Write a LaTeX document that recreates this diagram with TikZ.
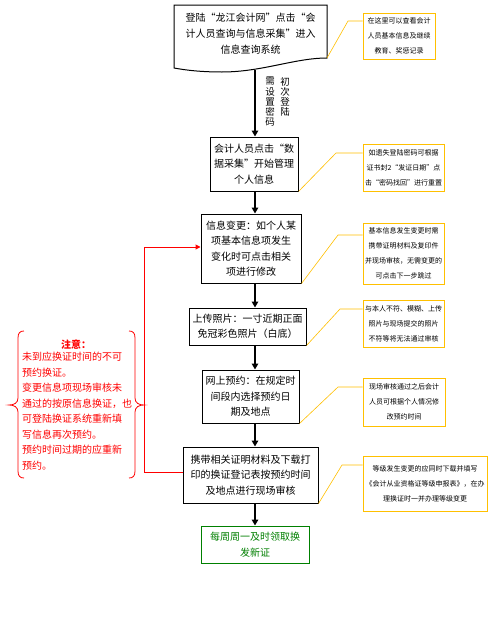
\documentclass[tikz,border=0pt]{standalone}
\usepackage{fontspec}
\setmainfont{Noto Sans CJK SC}
\usetikzlibrary{arrows.meta}
\definecolor{gold}{RGB}{255,192,0}
\definecolor{dgreen}{RGB}{0,128,0}
\begin{document}
\begin{tikzpicture}[x=1pt,y=-1pt,
  box/.style={draw=black, line width=1pt, align=center, inner sep=0pt, font=\fontsize{10}{15.5}\selectfont},
  callout/.style={draw=gold, line width=1pt, align=center, inner sep=0pt, font=\fontsize{7}{15}\selectfont},
  coline/.style={draw=gold, line width=0.6pt},
  arr/.style={draw=black, line width=1.8pt, -{Triangle[width=6.5pt,length=6pt]}},
  redline/.style={draw=red, line width=1pt},
  vtext/.style={align=center, inner sep=0pt, font=\fontsize{9.5}{10.2}\selectfont, anchor=north},
  notetext/.style={text=red, inner sep=0pt, font=\fontsize{10}{15.5}\selectfont}
]
\useasboundingbox[fill=white] (0,0) rectangle (497,640);
\coordinate (ax) at (255,0);

% document shape (box 1)
\draw[line width=1pt] (174,5) -- (327,5) -- (327,58)
  .. controls (295,58) and (262,72) .. (222,72)
  .. controls (200,72) and (185,70) .. (174,68) -- cycle;
\node[align=center, inner sep=0pt, font=\fontsize{10}{16}\selectfont] (b1) at (250.5,34)
  {登陆“龙江会计网”点击“会\\计人员查询与信息采集”进入\\信息查询系统};
\coordinate (b1se) at (327,58);
\coordinate (b1b) at (255,70);

% main boxes
\node[box, minimum width=88pt, minimum height=54pt] (b2) at (254,164)
  {会计人员点击“数\\据采集”开始管理\\个人信息};
\node[box, minimum width=100pt, minimum height=69pt] (b3) at (251,248.5)
  {信息变更：如个人某\\项基本信息项发生\\变化时可点击相关\\项进行修改};
\node[box, minimum width=117pt, minimum height=37pt] (b4) at (247.5,326.5)
  {上传照片：一寸近期正面\\免冠彩色照片（白底）};
\node[box, minimum width=97pt, minimum height=53pt] (b5) at (250.5,396.5)
  {网上预约：在规定时\\间段内选择预约日\\期及地点};
\node[box, minimum width=135pt, minimum height=56pt] (b6) at (250.5,475)
  {携带相关证明材料及下载打\\印的换证登记表按预约时间\\及地点进行现场审核};
\node[box, draw=dgreen, text=dgreen, minimum width=108pt, minimum height=37pt] (b7) at (255,544.5)
  {每周周一及时领取换\\发新证};

% vertical label on first arrow
\node[vtext] (v1) at (285,77) {初\\次\\登\\陆};
\node[vtext] (v2) at (270,77) {需\\设\\置\\密\\码};

% arrows
\draw[arr] (b1b) -- (b2.north -| ax);
\draw[arr] (b2.south -| ax) -- (b3.north -| ax);
\draw[arr] (b3.south -| ax) -- (b4.north -| ax);
\draw[arr] (b4.south -| ax) -- (b5.north -| ax);
\draw[arr] (b5.south -| ax) -- (b6.north -| ax);
\draw[arr] (b6.south -| ax) -- (b7.north -| ax);

% callouts
\node[callout, minimum width=72pt, minimum height=46pt] (c1) at (399,36)
  {在这里可以查看会计\\人员基本信息及继续\\教育、奖惩记录};
\node[callout, minimum width=81pt, minimum height=47pt] (c2) at (403.5,167.5)
  {如遗失登陆密码可根据\\证书封2“发证日期”点\\击“密码找回”进行重置};
\node[callout, minimum width=81pt, minimum height=61pt] (c3) at (403.5,253.5)
  {基本信息发生变更时需\\携带证明材料及复印件\\并现场审核，无需变更的\\可点击下一步跳过};
\node[callout, minimum width=81pt, minimum height=47pt] (c4) at (403.5,323.5)
  {与本人不符、模糊、上传\\照片与现场提交的照片\\不符等将无法通过审核};
\node[callout, minimum width=82pt, minimum height=48pt] (c5) at (404,402)
  {现场审核通过之后会计\\人员可根据个人情况修\\改预约时间};
\node[callout, minimum width=124pt, minimum height=55pt] (c6) at (425,483.5)
  {等级发生变更的应同时下载并填写\\《会计从业资格证等级申报表》，在办\\理换证时一并办理等级变更};

\coordinate (k1) at (348,21);
\coordinate (k2) at (336,153);
\coordinate (k3) at (338,235);
\coordinate (k4) at (340,309);
\coordinate (k5) at (338,387);
\coordinate (k6) at (342,465);
\draw[coline] (b1se) -- (k1) -- (k1 -| c1.west);
\draw[coline] (b2.south east) -- (k2) -- (k2 -| c2.west);
\draw[coline] (b3.south east) -- (k3) -- (k3 -| c3.west);
\draw[coline] (b4.south east) -- (k4) -- (k4 -| c4.west);
\draw[coline] (b5.south east) -- (k5) -- (k5 -| c5.west);
\draw[coline] (b6.south east) -- (k6) -- (k6 -| c6.west);

% red loop
\coordinate (r1) at (144,472);
\coordinate (r2) at (144,247);
\draw[redline, -{Triangle[width=5pt,length=5pt]}] (b6.west |- r1) -- (r1) -- (r2) -- (r2 -| b3.west);

% note double brace
\draw[redline, line width=0.8pt] (24,331) .. controls (20,331) and (18,333) .. (18,338) -- (18,398)
  .. controls (18,403) and (14,405) .. (9,405)
  .. controls (14,405) and (18,407) .. (18,412) -- (18,471)
  .. controls (18,476) and (20,478) .. (24,478);
\draw[redline, line width=0.8pt] (129,331) .. controls (133,331) and (135,333) .. (135,338) -- (135,398)
  .. controls (135,403) and (139,405) .. (144,405)
  .. controls (139,405) and (135,407) .. (135,412) -- (135,471)
  .. controls (135,476) and (133,478) .. (129,478);
\node[notetext, font=\fontsize{10}{15.5}\selectfont\bfseries] (nt) at (76,345) {注意：};
\node[notetext, align=left, anchor=north west] (nb) at (22,352)
  {未到应换证时间的不可\\预约换证。\\变更信息项现场审核未\\通过的按原信息换证，也\\可登陆换证系统重新填\\写信息再次预约。\\预约时间过期的应重新\\预约。};
\end{tikzpicture}
\end{document}
